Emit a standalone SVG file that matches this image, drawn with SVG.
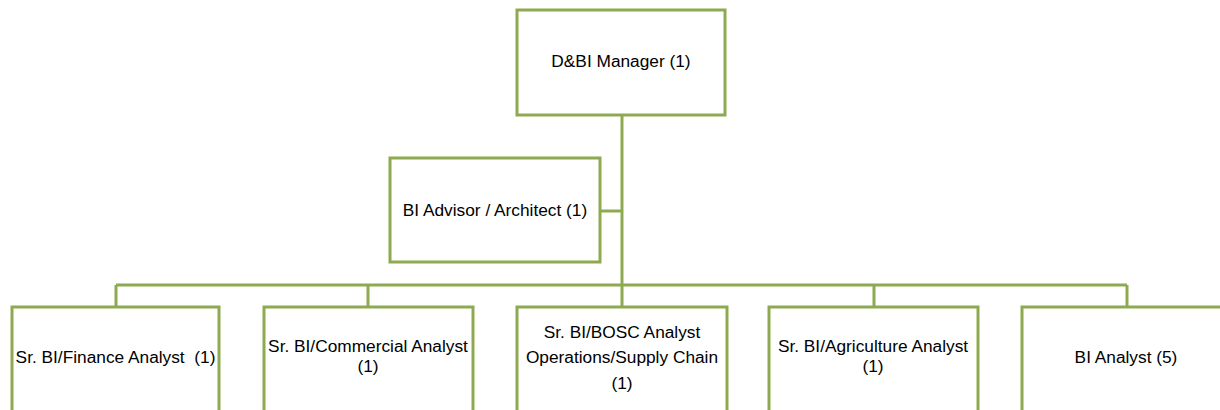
<svg xmlns="http://www.w3.org/2000/svg" width="1220" height="410" viewBox="0 0 1220 410">
  <style>
    .box { fill: #ffffff; stroke: #8eaa50; stroke-width: 3; }
    .link { fill: none; stroke: #8eaa50; stroke-width: 3; }
    text { font-family: "Liberation Sans", Arial, sans-serif; font-size: 17.3px; fill: #000000; text-anchor: middle; }
  </style>
  <rect width="1220" height="410" fill="#ffffff"/>

  <!-- reporting lines -->
  <g id="connectors">
    <path class="link" d="M622 115 V285"/>
    <path class="link" d="M600 211 H622"/>
    <path class="link" d="M116 285 H1127"/>
    <path class="link" d="M116 285 V307 M368 285 V307 M622 285 V307 M874 285 V307 M1127 285 V307"/>
  </g>

  <g id="manager">
    <rect class="box" x="517" y="10" width="208" height="105"/>
    <text x="621" y="67">D&amp;BI Manager (1)</text>
  </g>

  <g id="advisor">
    <rect class="box" x="390" y="158" width="210" height="104"/>
    <text x="495" y="216">BI Advisor / Architect (1)</text>
  </g>

  <g id="finance">
    <rect class="box" x="12" y="307" width="207" height="120"/>
    <text x="115.5" y="363" xml:space="preserve">Sr. BI/Finance Analyst  (1)</text>
  </g>

  <g id="commercial">
    <rect class="box" x="264" y="307" width="209" height="120"/>
    <text x="368" y="352">Sr. BI/Commercial Analyst</text>
    <text x="368" y="372">(1)</text>
  </g>

  <g id="bosc">
    <rect class="box" x="517" y="307" width="210" height="120"/>
    <text x="622" y="338">Sr. BI/BOSC Analyst</text>
    <text x="622" y="363">Operations/Supply Chain</text>
    <text x="622" y="389">(1)</text>
  </g>

  <g id="agriculture">
    <rect class="box" x="769" y="307" width="209" height="120"/>
    <text x="873" y="352">Sr. BI/Agriculture Analyst</text>
    <text x="873" y="372">(1)</text>
  </g>

  <g id="bi-analyst">
    <rect class="box" x="1022" y="307" width="210" height="120"/>
    <text x="1126" y="363">BI Analyst (5)</text>
  </g>
</svg>
